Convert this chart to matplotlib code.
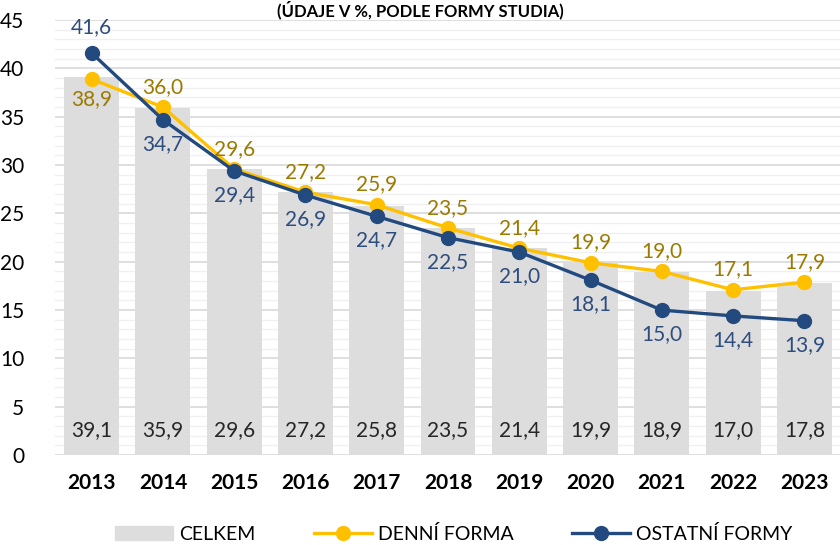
import numpy as np
import matplotlib
matplotlib.use("Agg")
import matplotlib.pyplot as plt
from matplotlib.lines import Line2D
from matplotlib.patches import Patch

roky = ["2013", "2014", "2015", "2016", "2017", "2018", "2019", "2020", "2021", "2022", "2023"]
celkem = [39.1, 35.9, 29.6, 27.2, 25.8, 23.5, 21.4, 19.9, 18.9, 17.0, 17.8]
denni = [38.9, 36.0, 29.6, 27.2, 25.9, 23.5, 21.4, 19.9, 19.0, 17.1, 17.9]
ostatni = [41.6, 34.7, 29.4, 26.9, 24.7, 22.5, 21.0, 18.1, 15.0, 14.4, 13.9]

plt.rcParams['font.family'] = ['Lato', 'DejaVu Sans']

fig = plt.figure(figsize=(8.4, 5.45), dpi=100)
ax = fig.add_axes([0.065, 0.165, 0.935, 0.798])

x = np.arange(len(roky))
ax.bar(x, celkem, width=0.77, color="#DDDDDD", zorder=2)
ax.plot(x, denni, color="#FFC000", lw=2.4, marker="o", ms=10, zorder=3)
ax.plot(x, ostatni, color="#234A7E", lw=2.4, marker="o", ms=10, zorder=4)

def fmt(v):
    return f"{v:.1f}".replace(".", ",")

# popisky hodnot
for i, v in enumerate(celkem):
    ax.text(i, 2.6, fmt(v), ha="center", va="center", fontsize=15, color="#262626", zorder=5)

for i, v in enumerate(denni):
    dy = -2.1 if i == 0 else 2.1
    ax.text(i, v + dy, fmt(v), ha="center", va="center", fontsize=15, color="#9C7A00", zorder=5)

for i, v in enumerate(ostatni):
    dy = 2.7 if i == 0 else -2.5
    ax.text(i, v + dy, fmt(v), ha="center", va="center", fontsize=15, color="#2E4D7F", zorder=5)

ax.set_ylim(0, 45)
ax.set_xlim(-0.52, 10.5)
ax.set_yticks(np.arange(0, 46, 5))
ax.set_yticks(np.arange(0, 46, 1), minor=True)
ax.set_xticks(x)
ax.set_xticklabels(roky, fontsize=15, fontweight="bold")
ax.tick_params(axis="y", labelsize=15, length=0, pad=22)
ax.tick_params(axis="y", which="minor", length=0)
ax.tick_params(axis="x", length=0, pad=13)
ax.grid(axis="y", which="major", color="#D9D9D9", lw=1.2, zorder=0)
ax.grid(axis="y", which="minor", color="#F0F0F0", lw=1.0, zorder=0)
for s in ax.spines.values():
    s.set_visible(False)

fig.text(0.5, 0.999, "(ÚDAJE V %, PODLE FORMY STUDIA)", ha="center", va="top",
         fontsize=12, fontweight="bold")

handles = [
    Patch(color="#DDDDDD", label="CELKEM"),
    Line2D([], [], color="#FFC000", lw=2.4, marker="o", ms=10, label="DENNÍ FORMA"),
    Line2D([], [], color="#234A7E", lw=2.4, marker="o", ms=10, label="OSTATNÍ FORMY"),
]
fig.legend(handles=handles, loc="center", bbox_to_anchor=(0.54, 0.02), ncol=3,
           frameon=False, fontsize=14, columnspacing=3.0, handlelength=3,
           handletextpad=0.3)

fig.savefig("out.png", dpi=100)
